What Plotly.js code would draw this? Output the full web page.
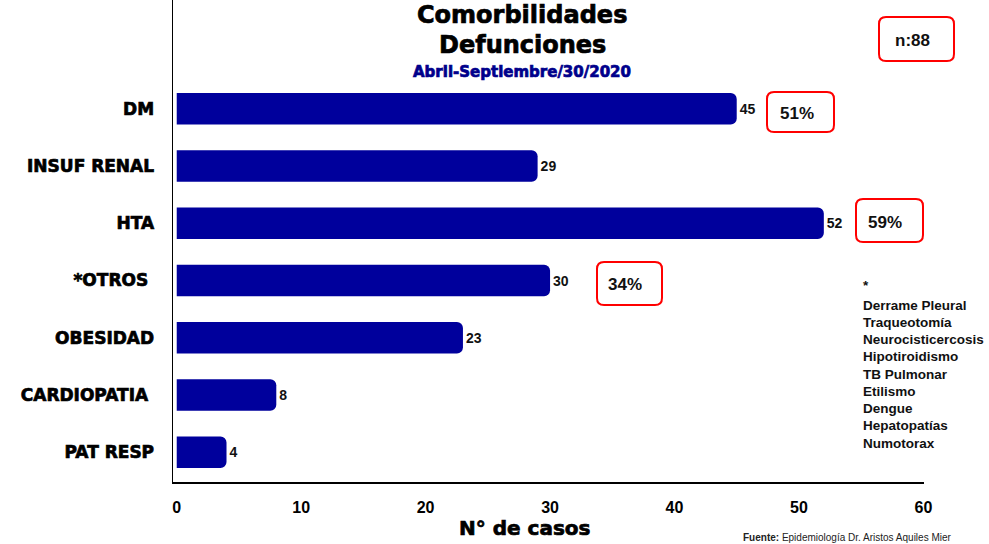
<!DOCTYPE html>
<html><head><meta charset="utf-8">
<script src="https://cdn.plot.ly/plotly-3.0.1.min.js"></script>
<style>html,body{margin:0;padding:0;background:#fff;}#chart{width:989px;height:544px;}</style>
</head><body><div id="chart"></div>
<script>
const categories = ["DM", "INSUF RENAL", "HTA", "*OTROS\u00a0", "OBESIDAD", "CARDIOPATIA\u00a0", "PAT RESP"];
const values = [45, 29, 52, 30, 23, 8, 4];
const xTicks = [0, 10, 20, 30, 40, 50, 60];
const percentLabels = ["51%", "59%", "34%"];
const totalLabel = "n:88";
const otrosList = ["*", "Derrame Pleural", "Traqueotomía", "Neurocisticercosis", "Hipotiroidismo", "TB Pulmonar", "Etilismo", "Dengue", "Hepatopatías", "Numotorax"];

const W = 989, H = 544, L = 173, R = 65, T = 0, B = 62;
const pw = W - L - R, ph = H - T - B;
const px = x => (x - L) / pw;
const py = y => (H - B - y) / ph;
const heavy = "'DejaVu Sans', Arial, sans-serif";
const arial = "'Liberation Sans', Arial, sans-serif";

function rrect(x0, y0, x1, y1, r) {
  const X0 = px(x0), X1 = px(x1), Y0 = py(y0), Y1 = py(y1);
  const rx = r / pw, ry = r / ph;
  return `M ${X0 + rx},${Y0} L ${X1 - rx},${Y0} Q ${X1},${Y0} ${X1},${Y0 - ry} L ${X1},${Y1 + ry} Q ${X1},${Y1} ${X1 - rx},${Y1} L ${X0 + rx},${Y1} Q ${X0},${Y1} ${X0},${Y1 + ry} L ${X0},${Y0 - ry} Q ${X0},${Y0} ${X0 + rx},${Y0} Z`;
}

const boxes = [
  {b: [767, 92, 834, 132], t: [797, 113], s: percentLabels[0]},
  {b: [856, 199, 923, 242], t: [885, 222], s: percentLabels[1]},
  {b: [597, 262, 662, 305], t: [625, 284], s: percentLabels[2]},
  {b: [879, 17, 954, 61], t: [912, 40], s: totalLabel}
];

const shapes = boxes.map(o => ({type: 'path', xref: 'paper', yref: 'paper', path: rrect(o.b[0], o.b[1], o.b[2], o.b[3], 7), line: {color: '#ff0000', width: 2}, fillcolor: 'rgba(0,0,0,0)'}));

const annotations = [];
boxes.forEach(o => annotations.push({xref: 'paper', yref: 'paper', x: px(o.t[0]), y: py(o.t[1]), text: '<b>' + o.s + '</b>', showarrow: false, xanchor: 'center', yanchor: 'middle', font: {family: arial, size: 17, color: '#111'}}));

otrosList.forEach((s, i) => annotations.push({xref: 'paper', yref: 'paper', x: px(861), y: py(i === 0 ? 285 : 305 + (i - 1) * 17.25), text: '<b>' + s + '</b>', showarrow: false, xanchor: 'left', yanchor: 'middle', font: {family: arial, size: 13.5, color: '#111'}}));

annotations.push({xref: 'paper', yref: 'paper', x: px(522), y: py(15), text: '<b>Comorbilidades</b>', showarrow: false, xanchor: 'center', yanchor: 'middle', font: {family: heavy, size: 24, color: '#000'}});
annotations.push({xref: 'paper', yref: 'paper', x: px(522), y: py(45), text: '<b>Defunciones</b>', showarrow: false, xanchor: 'center', yanchor: 'middle', font: {family: heavy, size: 24, color: '#000'}});
annotations.push({xref: 'paper', yref: 'paper', x: px(522), y: py(72), text: '<b>Abril-Septiembre/30/2020</b>', showarrow: false, xanchor: 'center', yanchor: 'middle', font: {family: heavy, size: 15, color: '#00008B'}});
annotations.push({xref: 'paper', yref: 'paper', x: px(524), y: py(528), text: '<b>N° de casos</b>', showarrow: false, xanchor: 'center', yanchor: 'middle', font: {family: heavy, size: 20, color: '#000'}});
annotations.push({xref: 'paper', yref: 'paper', x: px(741), y: py(537), text: '<b>Fuente:</b> Epidemiología Dr. Aristos Aquiles Mier', showarrow: false, xanchor: 'left', yanchor: 'middle', font: {family: arial, size: 10, color: '#222'}});

const trace = {
  type: 'bar', orientation: 'h', y: categories, x: values,
  marker: {color: '#00009C', cornerradius: 6, line: {width: 0}},
  width: 0.55,
  text: values.map(String), textposition: 'outside', cliponaxis: false,
  textfont: {family: arial, size: 14, color: '#111', weight: 'bold'},
  hoverinfo: 'skip'
};

const layout = {
  width: W, height: H,
  margin: {l: L, r: R, t: T, b: B},
  paper_bgcolor: '#fff', plot_bgcolor: 'rgba(0,0,0,0)',
  showlegend: false,
  xaxis: {range: [-0.3, 60.05], tickvals: xTicks, ticktext: xTicks.map(String), showgrid: false, zeroline: false, showline: true, linecolor: '#000', linewidth: 1.5, ticks: '', ticklabelstandoff: 10, tickfont: {family: arial, size: 16, color: '#000', weight: 'bold'}, fixedrange: true},
  yaxis: {type: 'category', range: [6.52, -1.9], showgrid: false, zeroline: false, showline: true, linecolor: '#000', linewidth: 1.5, ticks: '', ticklabelstandoff: 14, tickfont: {family: heavy, size: 17, color: '#000', weight: 'bold'}, fixedrange: true},
  shapes: shapes, annotations: annotations
};

Plotly.newPlot('chart', [trace], layout, {staticPlot: true}).then(() => {
  document.querySelectorAll('#chart text').forEach(t => {
    const ff = t.style.fontFamily || '';
    if (ff.indexOf('DejaVu') >= 0) {
      t.style.stroke = t.style.fill || '#000';
      t.style.strokeWidth = '0.7px';
    }
  });
});
</script></body></html>
